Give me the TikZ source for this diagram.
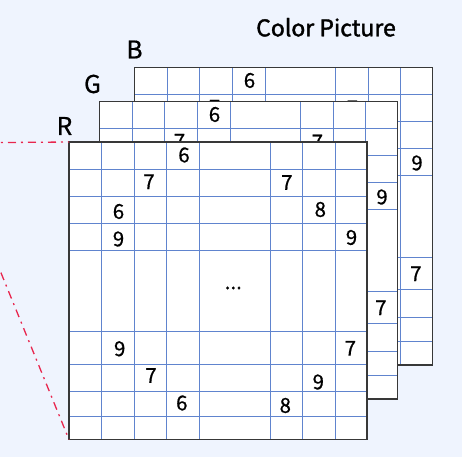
\documentclass[tikz,border=0pt]{standalone}
\usepackage{fontspec}
\setmainfont[FakeBold=0.7]{Noto Sans CJK KR}
\newfontfamily\titlefont[FakeBold=1.6]{Noto Sans CJK KR}
\definecolor{bgblue}{RGB}{239,244,254}
\definecolor{gridblue}{RGB}{96,132,206}
\definecolor{rayred}{RGB}{232,38,78}
\begin{document}
\begin{tikzpicture}[x=1pt,y=-1pt,line width=1pt,line cap=rect,
 layer/.style={fill=white,minimum width=298pt,minimum height=297.5pt,inner sep=0pt,outer sep=0pt,anchor=north west},
 frame/.style={draw=black!78,line width=1.2pt},
 gridline/.style={gridblue,line width=1pt},
 num/.style={font=\fontsize{20.5}{21}\selectfont,inner sep=0pt},
 chan/.style={font=\fontsize{24.5}{25}\selectfont,inner sep=0pt},
 ray/.style={rayred,line width=1.3pt,line cap=butt,dash pattern=on 8pt off 5pt on 2pt off 5pt}]

\useasboundingbox (0,0) rectangle (462,457);
\fill[bgblue] (0,0) rectangle (462,457);
\clip (0,0) rectangle (462,457);

\node[font=\titlefont\fontsize{23}{24}\selectfont,inner sep=0pt] (title) at (326,27.3) {Color Picture};

\foreach \dx/\dy/\ch/\lx/\ly in {65.5/-74.5/B/69/124,30.5/-40.5/G/62/124.5,0/0/R/64.5/126} {
 \begin{scope}[shift={(\dx,\dy)}]
  \node[layer] (\ch) at (69,142) {};
  \foreach \x in {101.5,134,166.5,199.5,270,302.5,335}
   \draw[gridline] (\x,142) -- (\x,439.5);
  \foreach \y in {169,196,223,250,331.5,364,391.5,416}
   \draw[gridline] (69,\y) -- (367,\y);
  \draw[frame] (\ch.north west) rectangle (\ch.south east);
  \foreach \u/\v/\d [count=\i] in {184/155/6,149/181.7/7,286.8/182.5/7,118.5/211.5/6,320.3/209.5/8,
   118.5/239/9,351.5/237.5/9,119.7/348.8/9,350.3/348.3/7,151/375.5/7,318.3/382/9,181.8/403/6,285.3/405.5/8}
   \node[num] (n\ch\i) at (\u,\v) {\d};
  \node[num] (dots\ch) at (233.3,288) {...};
  \node[chan] (lab\ch) at (\lx,\ly) {\ch};
 \end{scope}
}

\coordinate (eye) at (-52,143);
\draw[ray] (eye) -- (R.north west);
\draw[ray] (eye) -- (R.south west);
\end{tikzpicture}
\end{document}
